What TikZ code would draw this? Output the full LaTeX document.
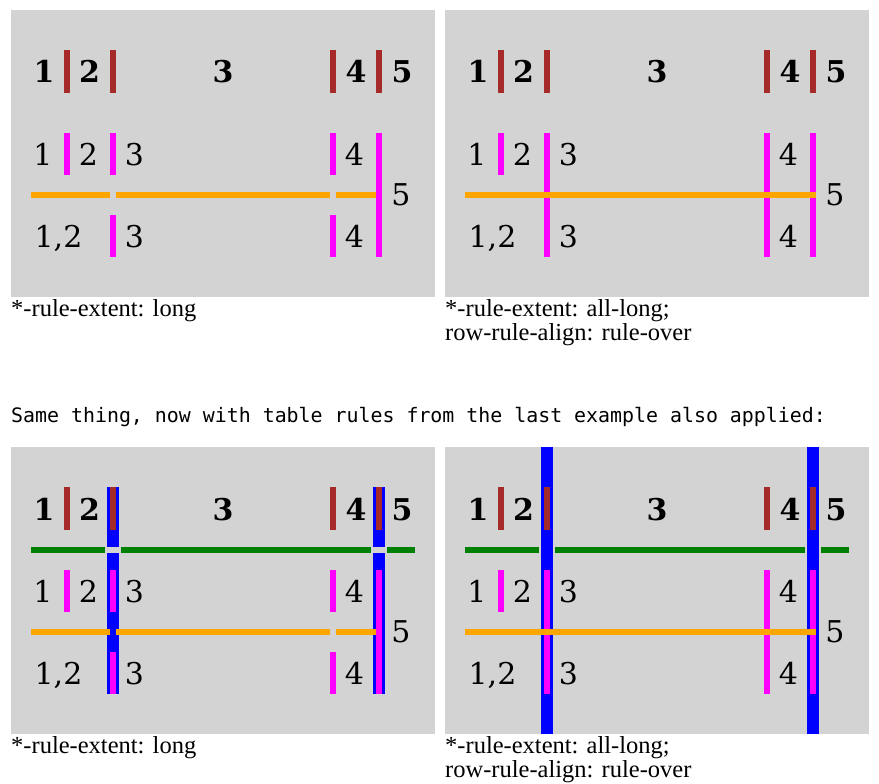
\documentclass[tikz,border=0pt]{standalone}
\usepackage{fontspec}
\setmainfont{DejaVu Serif}
\newfontfamily\capfont{Liberation Serif}
\newfontfamily\monofont{DejaVu Sans Mono}
\definecolor{panelgray}{HTML}{D3D3D3}
\definecolor{rbrown}{HTML}{A52A2A}
\definecolor{rmag}{HTML}{FF00FF}
\definecolor{rorange}{HTML}{FFA500}
\definecolor{rgreen}{HTML}{008000}
\definecolor{rblue}{HTML}{0000FF}
\tikzset{
  cell/.style={anchor=base, inner sep=0pt, font=\fontsize{30}{36}\selectfont},
  headcell/.style={anchor=base, inner sep=0pt, font=\fontsize{30}{36}\selectfont\bfseries},
  captext/.style={anchor=base west, inner sep=0pt, align=left, font=\capfont\fontsize{24.5}{24}\selectfont},
  monotext/.style={anchor=base west, inner sep=0pt, font=\monofont\fontsize{19.9}{24}\selectfont},
}
\newcommand{\panelbg}{\fill[panelgray] (11,10) rectangle (435,297);}
\newcommand{\greenrules}{%
  \fill[rgreen] (31,110) rectangle (105,116);
  \fill[rgreen] (121,110) rectangle (371,116);
  \fill[rgreen] (387,110) rectangle (415,116);}
\newcommand{\brownrules}{%
  \fill[rbrown] (64,50) rectangle (70,93);
  \fill[rbrown] (110,50) rectangle (116,93);
  \fill[rbrown] (330,50) rectangle (336,93);
  \fill[rbrown] (376,50) rectangle (382,93);}
\newcommand{\celltexts}{%
  \node[headcell] (h1) at (44,83) {1};
  \node[headcell] (h2) at (89.5,83) {2};
  \node[headcell] (h3) at (223,83) {3};
  \node[headcell] (h4) at (356,83) {4};
  \node[headcell] (h5) at (402,83) {5};
  \node[cell] (a1) at (43,165) {1};
  \node[cell] (a2) at (88.5,165) {2};
  \node[cell] (a3) at (134.5,165) {3};
  \node[cell] (a4) at (354.5,165) {4};
  \node[cell] (a5) at (401,205) {5};
  \node[cell] (b12) at (58.5,247) {1,2};
  \node[cell] (b3) at (134.5,247) {3};
  \node[cell] (b4) at (354.5,247) {4};}
\newcommand{\magshort}{%
  \fill[rmag] (64,133) rectangle (70,175);
  \fill[rmag] (110,133) rectangle (116,175);
  \fill[rmag] (110,215) rectangle (116,257);
  \fill[rmag] (330,133) rectangle (336,175);
  \fill[rmag] (330,215) rectangle (336,257);
  \fill[rmag] (376,133) rectangle (382,257);}
\newcommand{\maglong}{%
  \fill[rmag] (64,133) rectangle (70,175);
  \fill[rmag] (110,133) rectangle (116,257);
  \fill[rmag] (330,133) rectangle (336,257);
  \fill[rmag] (376,133) rectangle (382,257);}
\newcommand{\orangeshort}{%
  \fill[rorange] (31,192) rectangle (110,198);
  \fill[rorange] (116,192) rectangle (330,198);
  \fill[rorange] (336,192) rectangle (376,198);}
\newcommand{\orangelong}{\fill[rorange] (31,192) rectangle (382,198);}
\begin{document}
\begin{tikzpicture}[x=1pt,y=-1pt]
\useasboundingbox (0,0) rectangle (879,784);
\fill[white] (0,0) rectangle (879,784);
% top-left
\begin{scope}
  \panelbg \brownrules \magshort \orangeshort \celltexts
  \node[captext] (c1) at (11,316) {*-rule-extent: long};
\end{scope}
% top-right
\begin{scope}[shift={(434,0)}]
  \panelbg \brownrules \maglong \orangelong \celltexts
  \node[captext] (c2) at (11,316) {*-rule-extent: all-long;};
  \node[captext] (c2b) at (11,340) {row-rule-align: rule-over};
\end{scope}
\node[monotext] (mid) at (11,422) {Same thing, now with table rules from the last example also applied:};
% bottom-left
\begin{scope}[shift={(0,437)}]
  \panelbg
  \fill[rblue] (107,50) rectangle (119,110);
  \fill[rblue] (107,116) rectangle (119,257);
  \fill[rblue] (373,50) rectangle (385,110);
  \fill[rblue] (373,116) rectangle (385,257);
  \greenrules \brownrules \magshort \orangeshort \celltexts
  \node[captext] (c3) at (11,316) {*-rule-extent: long};
\end{scope}
% bottom-right
\begin{scope}[shift={(434,437)}]
  \panelbg \greenrules
  \fill[rblue] (107,10) rectangle (119,297);
  \fill[rblue] (373,10) rectangle (385,297);
  \brownrules \maglong \orangelong \celltexts
  \node[captext] (c4) at (11,316) {*-rule-extent: all-long;};
  \node[captext] (c4b) at (11,340) {row-rule-align: rule-over};
\end{scope}
\end{tikzpicture}
\end{document}
